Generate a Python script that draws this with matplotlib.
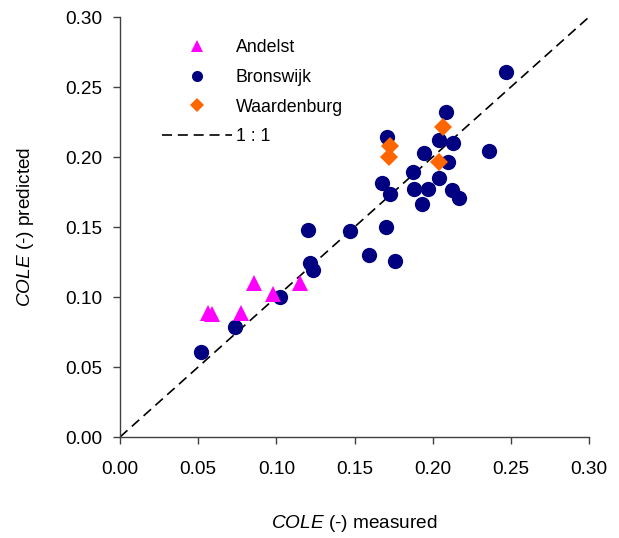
import matplotlib
matplotlib.use("Agg")
import matplotlib.pyplot as plt
from matplotlib.lines import Line2D

plt.rcParams['font.family'] = ['Liberation Sans', 'DejaVu Sans']
plt.rcParams['mathtext.fontset'] = 'custom'
plt.rcParams['mathtext.it'] = 'Liberation Sans:italic'
plt.rcParams['mathtext.rm'] = 'Liberation Sans'

# Data
andelst_x = [0.0855, 0.0979, 0.1149, 0.0560, 0.0589, 0.0777]
andelst_y = [0.1098, 0.1021, 0.1098, 0.0888, 0.0876, 0.0888]

bronswijk_x = [0.2468, 0.2085, 0.1709, 0.2038, 0.2128, 0.1943, 0.2362, 0.2096,
               0.1872, 0.2038, 0.1674, 0.1730, 0.1879, 0.1968, 0.2121, 0.2170,
               0.1930, 0.1202, 0.1474, 0.1700, 0.1594, 0.1762, 0.1213, 0.1234,
               0.1021, 0.0734, 0.0519]
bronswijk_y = [0.2609, 0.2319, 0.2145, 0.2121, 0.2102, 0.2031, 0.2043, 0.1962,
               0.1891, 0.1852, 0.1817, 0.1736, 0.1771, 0.1771, 0.1764, 0.1705,
               0.1662, 0.1479, 0.1471, 0.1500, 0.1300, 0.1259, 0.1245, 0.1193,
               0.1002, 0.0788, 0.0609]

waard_x = [0.2064, 0.1730, 0.1723, 0.2043]
waard_y = [0.2217, 0.2079, 0.1998, 0.1967]

line_xy = [0.0, 0.30]
ticks = [0.00, 0.05, 0.10, 0.15, 0.20, 0.25, 0.30]
tick_labels = ['0.00', '0.05', '0.10', '0.15', '0.20', '0.25', '0.30']

DASH = (0, (6, 3.5))

fig = plt.figure(figsize=(6.19, 5.38), dpi=100)
ax = fig.add_axes([120/619, 1-437/538, 469/619, 420/538])

ax.plot(line_xy, line_xy, color='black', linestyle=DASH, linewidth=1.2, zorder=1)
ax.plot(andelst_x, andelst_y, linestyle='none', marker='^', markersize=11,
        color='#FF00FF', markeredgewidth=0, zorder=3)
ax.plot(bronswijk_x, bronswijk_y, linestyle='none', marker='o', markersize=11,
        color='#000080', markeredgewidth=0, zorder=2)
ax.plot(waard_x, waard_y, linestyle='none', marker='D', markersize=9.5,
        color='#FF6600', markeredgewidth=0, zorder=4)

ax.set_xlim(0, 0.30)
ax.set_ylim(0, 0.30)
ax.set_xticks(ticks)
ax.set_xticklabels(tick_labels)
ax.set_yticks(ticks)
ax.set_yticklabels(tick_labels)
ax.tick_params(direction='out', length=5, width=1, labelsize=13.7, color='#404040')
ax.tick_params(axis='x', pad=12.5)
ax.tick_params(axis='y', pad=8)
for s in ['top', 'right']:
    ax.spines[s].set_visible(False)
for s in ['left', 'bottom']:
    ax.spines[s].set_color('#404040')
    ax.spines[s].set_linewidth(1)

ax.set_xlabel(r'$\mathit{COLE}$ (-) measured', fontsize=13.7, labelpad=25)
ax.set_ylabel(r'$\mathit{COLE}$ (-) predicted', fontsize=13.7, labelpad=21)

handles = [
    Line2D([], [], linestyle='none', marker='^', markersize=9, color='#FF00FF', markeredgewidth=0),
    Line2D([], [], linestyle='none', marker='o', markersize=8, color='#000080', markeredgewidth=0),
    Line2D([], [], linestyle='none', marker='D', markersize=7, color='#FF6600', markeredgewidth=0),
    Line2D([], [], linestyle=DASH, linewidth=1.2, color='black'),
]
labels = ['Andelst', 'Bronswijk', 'Waardenburg', '1 : 1']
ax.legend(handles, labels, loc='upper left', bbox_to_anchor=(0.089, 0.947),
          frameon=False, fontsize=12.8, handlelength=3.93, handletextpad=0.24,
          labelspacing=0.71, borderpad=0, borderaxespad=0)

fig.savefig('out.png', dpi=100)
